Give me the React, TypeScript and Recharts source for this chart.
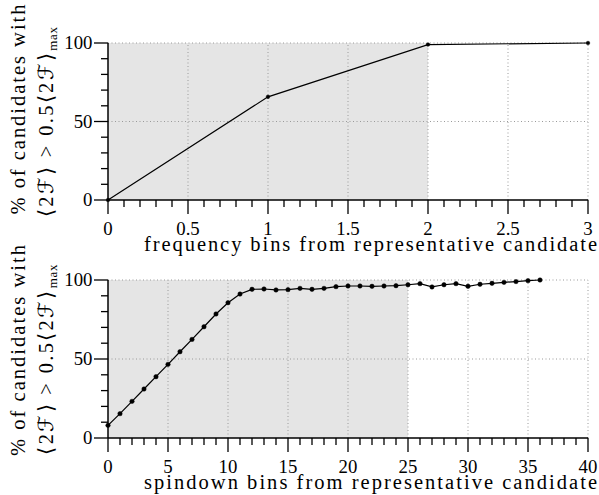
import React from "react";
import {
  LineChart,
  Line,
  XAxis,
  YAxis,
  ReferenceArea,
  ReferenceLine,
  Label,
} from "recharts";

// top panel: frequency offset
const freqBins = [0, 1, 2, 3];
const freqPct = [0, 65.7, 99.0, 100];
const freqMajorTicks = [0, 0.5, 1, 1.5, 2, 2.5, 3];

// bottom panel: spindown offset
const spinBins = [
  0, 1, 2, 3, 4, 5, 6, 7, 8, 9, 10, 11, 12, 13, 14, 15, 16, 17, 18, 19, 20, 21,
  22, 23, 24, 25, 26, 27, 28, 29, 30, 31, 32, 33, 34, 35, 36,
];
const spinPct = [
  8.0, 15.4, 23.2, 31.0, 38.8, 46.6, 54.6, 62.4, 70.4, 78.5, 85.6, 91.1, 94.1,
  94.3, 93.7, 93.9, 94.7, 94.1, 94.7, 95.8, 96.2, 96.2, 96.0, 96.2, 96.4, 97.0,
  97.7, 95.6, 97.0, 97.7, 96.0, 97.3, 97.9, 98.5, 99.0, 99.6, 100,
];
const spinMajorTicks = [0, 5, 10, 15, 20, 25, 30, 35, 40];

const yMajorTicks = [0, 50, 100];

const FONT = "Liberation Serif";
const serif: React.CSSProperties = { fontFamily: FONT };

const steps = (max: number, step: number) => {
  const out: number[] = [];
  const n = Math.round(max / step);
  for (let i = 0; i <= n; i++) out.push(Math.round(i * step * 1000) / 1000);
  return out;
};

const isIn = (list: number[], v: number) =>
  list.some((m) => Math.abs(m - v) < 1e-9);

const makeXTick = (major: number[]) => (props: any) => {
  const { x, y, payload } = props;
  const big = isIn(major, payload.value);
  return (
    <g>
      <line x1={x} x2={x} y1={y} y2={y + (big ? 14 : 7)} stroke="#000" strokeWidth={1.3} />
      {big && (
        <text x={x} y={y + 35} textAnchor="middle" style={serif} fontSize={18.8} fill="#000">
          {String(payload.value)}
        </text>
      )}
    </g>
  );
};

const YTick = (props: any) => {
  const { x, y, payload } = props;
  const big = isIn(yMajorTicks, payload.value);
  return (
    <g>
      <line x1={x} x2={x - (big ? 14 : 7)} y1={y} y2={y} stroke="#000" strokeWidth={1.3} />
      {big && (
        <text x={x - 15.5} y={y + 6.3} textAnchor="end" style={serif} fontSize={18.8} fill="#000">
          {String(payload.value)}
        </text>
      )}
    </g>
  );
};

// two-line rotated y title, anchored at its lower end below the plot bottom
const yTitle = (b1: number, len1: number, b2: number) => (props: any) => {
  const vb = props.viewBox;
  const bottom = vb.y + vb.height;
  const x1 = 25;
  const x2 = 53;
  return (
    <g fill="#000">
      <text
        x={x1}
        y={bottom + b1}
        textAnchor="start"
        style={serif}
        fontSize={20.5}
        textLength={len1}
        lengthAdjust="spacing"
        transform={`rotate(-90, ${x1}, ${bottom + b1})`}
      >
        % of candidates with
      </text>
      <text
        x={x2}
        y={bottom + b2}
        textAnchor="start"
        style={serif}
        fontSize={20.5}
        letterSpacing={2.3}
        transform={`rotate(-90, ${x2}, ${bottom + b2})`}
      >
        {"⟨2ℱ⟩ > 0.5⟨2ℱ⟩"}
        <tspan fontSize={13} dy={4} letterSpacing={0.8}>max</tspan>
      </text>
    </g>
  );
};

const xTitle = (text: string) => (props: any) => {
  const vb = props.viewBox;
  return (
    <text
      x={vb.x + vb.width + 9}
      y={vb.y + 50.5}
      textAnchor="end"
      style={serif}
      fontSize={20.5}
      textLength={453}
      lengthAdjust="spacing"
      fill="#000"
    >
      {text}
    </text>
  );
};

type PanelProps = {
  xs: number[];
  ys: number[];
  xMax: number;
  majorTicks: number[];
  minorStep: number;
  shadeTo: number;
  xLabel: string;
  dotR: number;
  plotH: number;
  b1: number;
  len1: number;
  b2: number;
};

const Panel = (p: PanelProps) => {
  const data = p.xs.map((x, i) => ({ x, y: p.ys[i] }));
  const xTicks = steps(p.xMax, p.minorStep);
  const yTicks = steps(100, 10);
  return (
    <LineChart
      width={599}
      height={43 + p.plotH + 58}
      data={data}
      margin={{ top: 43, right: 11, bottom: 0, left: 48 }}
      style={serif}
    >
      <XAxis
        dataKey="x"
        type="number"
        domain={[0, p.xMax]}
        ticks={xTicks}
        interval={0}
        tickSize={0}
        tickMargin={0}
        tickLine={false}
        tick={makeXTick(p.majorTicks)}
        height={58}
        axisLine={{ stroke: "#000", strokeWidth: 1.5 }}
      >
        <Label content={xTitle(p.xLabel)} />
      </XAxis>
      <YAxis
        type="number"
        domain={[0, 100]}
        ticks={yTicks}
        interval={0}
        tickSize={0}
        tickMargin={0}
        tickLine={false}
        tick={YTick}
        width={60}
        axisLine={{ stroke: "#000", strokeWidth: 1.5 }}
      >
        <Label content={yTitle(p.b1, p.len1, p.b2)} />
      </YAxis>
      <ReferenceArea x1={0} x2={p.shadeTo} y1={0} y2={100} fill="#e5e5e5" fillOpacity={1} stroke="none" />
      {p.majorTicks
        .filter((t) => t > 0)
        .map((t) => (
          <ReferenceLine key={"v" + t} x={t} stroke="#9a9a9a" strokeWidth={1} strokeDasharray="1 2.5" />
        ))}
      {yMajorTicks
        .filter((t) => t > 0)
        .map((t) => (
          <ReferenceLine key={"h" + t} y={t} stroke="#9a9a9a" strokeWidth={1} strokeDasharray="1 2.5" />
        ))}
      <Line
        type="linear"
        dataKey="y"
        stroke="#000"
        strokeWidth={1.2}
        dot={{ r: p.dotR, fill: "#000", stroke: "#000", strokeWidth: 0.5 }}
        isAnimationActive={false}
      />
    </LineChart>
  );
};

export default function App() {
  return (
    <div style={{ position: "absolute", left: 0, top: 0, width: 599, height: 495, background: "#fff", overflow: "hidden", fontFamily: FONT }}>
      <div style={{ position: "absolute", left: 0, top: 0 }}>
        <Panel
          xs={freqBins}
          ys={freqPct}
          xMax={3}
          majorTicks={freqMajorTicks}
          minorStep={0.1}
          shadeTo={2}
          xLabel="frequency bins from representative candidate"
          dotR={1.8}
          plotH={157}
          b1={14.5}
          len1={210}
          b2={17}
        />
      </div>
      <div style={{ position: "absolute", left: 0, top: 237 }}>
        <Panel
          xs={spinBins}
          ys={spinPct}
          xMax={40}
          majorTicks={spinMajorTicks}
          minorStep={1}
          shadeTo={25}
          xLabel="spindown bins from representative candidate"
          dotR={2.2}
          plotH={158}
          b1={18}
          len1={211}
          b2={16.5}
        />
      </div>
    </div>
  );
}
